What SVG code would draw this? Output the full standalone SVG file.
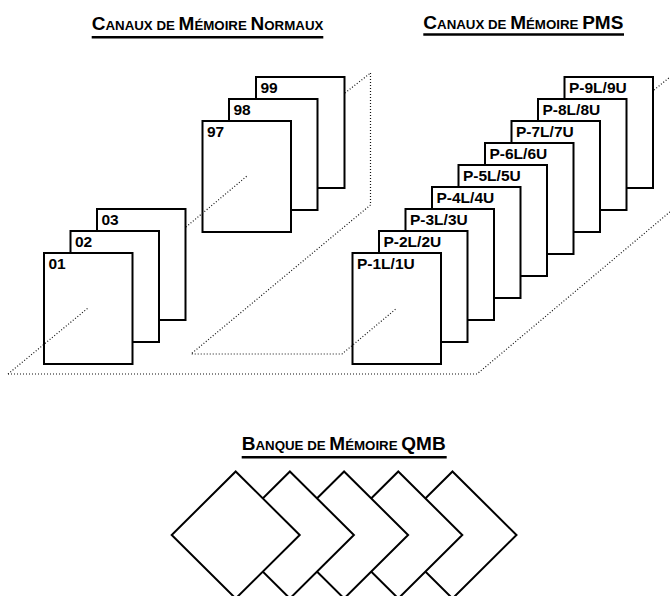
<svg xmlns="http://www.w3.org/2000/svg" width="670" height="596" viewBox="0 0 670 596">
<style>
.card{fill:#fff;stroke:#000;stroke-width:2}
.lbl{font-family:"Liberation Sans",Arial,sans-serif;font-weight:bold;font-size:15.5px;fill:#000}
.title{font-family:"Liberation Sans",Arial,sans-serif;font-weight:bold;font-size:13.3px;fill:#000}
.big{font-size:19px}
.ul{stroke:#000;stroke-width:2.5}
.dot{fill:none;stroke:#111;stroke-width:1.2;stroke-dasharray:1 2}
.dia{fill:#fff;stroke:#000;stroke-width:2}
</style>
<rect width="670" height="596" fill="#fff"/>

<g id="title-normaux">
<text class="title" x="91.7" y="30"><tspan class="big">C</tspan>ANAUX DE <tspan class="big">M</tspan>ÉMOIRE <tspan class="big">N</tspan>ORMAUX</text>
<line class="ul" x1="91.7" y1="37.3" x2="323.3" y2="37.3"/>
</g>
<g id="title-pms">
<text class="title" x="423.3" y="28.5"><tspan class="big">C</tspan>ANAUX DE <tspan class="big">M</tspan>ÉMOIRE <tspan class="big">PMS</tspan></text>
<line class="ul" x1="423.3" y1="34.6" x2="624" y2="34.6"/>
</g>
<g id="title-qmb">
<text class="title" x="241.7" y="450"><tspan class="big">B</tspan>ANQUE DE <tspan class="big">M</tspan>ÉMOIRE <tspan class="big">QMB</tspan></text>
<line class="ul" x1="241.7" y1="457.3" x2="446.7" y2="457.3"/>
</g>

<g id="ch-99"><rect class="card" x="256" y="77" width="88.5" height="111"/><text class="lbl" x="260.5" y="93">99</text></g>
<g id="ch-98"><rect class="card" x="229" y="99" width="88.5" height="111"/><text class="lbl" x="233.5" y="115">98</text></g>
<g id="ch-97"><rect class="card" x="202.5" y="121" width="88.5" height="111"/><text class="lbl" x="207" y="137">97</text></g>
<g id="ch-03"><rect class="card" x="97" y="209" width="88.5" height="111"/><text class="lbl" x="101.5" y="225">03</text></g>
<g id="ch-02"><rect class="card" x="70.5" y="231" width="88.5" height="111"/><text class="lbl" x="75" y="247">02</text></g>
<g id="ch-01"><rect class="card" x="44" y="253" width="88.5" height="111"/><text class="lbl" x="48.5" y="269">01</text></g>

<g id="pms-9"><rect class="card" x="564.5" y="77" width="88.5" height="111"/><text class="lbl" x="569" y="93">P-9L/9U</text></g>
<g id="pms-8"><rect class="card" x="538" y="99" width="88.5" height="111"/><text class="lbl" x="542.5" y="115">P-8L/8U</text></g>
<g id="pms-7"><rect class="card" x="511.5" y="121" width="88.5" height="111"/><text class="lbl" x="516" y="137">P-7L/7U</text></g>
<g id="pms-6"><rect class="card" x="485" y="143" width="88.5" height="111"/><text class="lbl" x="489.5" y="159">P-6L/6U</text></g>
<g id="pms-5"><rect class="card" x="458.5" y="165" width="88.5" height="111"/><text class="lbl" x="463" y="181">P-5L/5U</text></g>
<g id="pms-4"><rect class="card" x="432" y="187" width="88.5" height="111"/><text class="lbl" x="436.5" y="203">P-4L/4U</text></g>
<g id="pms-3"><rect class="card" x="405.5" y="209" width="88.5" height="111"/><text class="lbl" x="410" y="225">P-3L/3U</text></g>
<g id="pms-2"><rect class="card" x="379" y="231" width="88.5" height="111"/><text class="lbl" x="383.5" y="247">P-2L/2U</text></g>
<g id="pms-1"><rect class="card" x="352.5" y="253" width="88.5" height="111"/><text class="lbl" x="357" y="269">P-1L/1U</text></g>

<g id="connectors">
<line class="dot" x1="8" y1="374" x2="88" y2="308"/>
<line class="dot" x1="186" y1="227" x2="247" y2="176"/>
<line class="dot" x1="345" y1="93" x2="370.5" y2="73"/>
<polyline class="dot" points="370.5,73 370.5,205 191,354 342,354 397,308"/>
<polyline class="dot" points="8,374 477,374 690,195"/>
<line class="dot" x1="654" y1="90" x2="675" y2="73"/>
</g>

<g id="qmb-5"><polygon class="dia" points="452.5,471.5 516.5,535 452.5,598.5 388.5,535"/></g>
<g id="qmb-4"><polygon class="dia" points="398.3,471.5 462.3,535 398.3,598.5 334.3,535"/></g>
<g id="qmb-3"><polygon class="dia" points="344.1,471.5 408.1,535 344.1,598.5 280.1,535"/></g>
<g id="qmb-2"><polygon class="dia" points="289.9,471.5 353.9,535 289.9,598.5 225.9,535"/></g>
<g id="qmb-1"><polygon class="dia" points="235.7,471.5 299.7,535 235.7,598.5 171.7,535"/></g>
</svg>
